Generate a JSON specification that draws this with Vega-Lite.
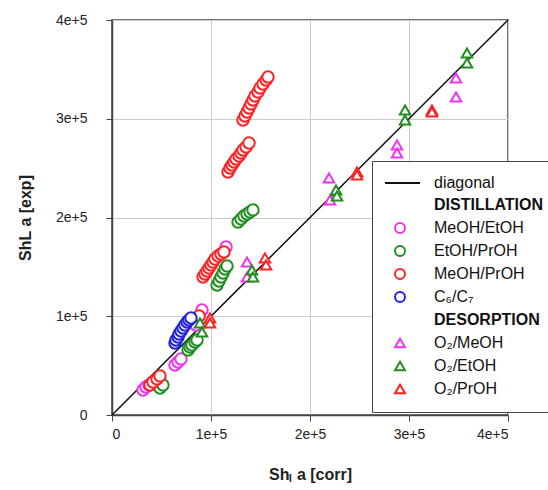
{
  "$schema": "https://vega.github.io/schema/vega-lite/v6.json",
  "autosize": {"type": "none"},
  "padding": {"left": 112, "top": 20, "right": 40, "bottom": 75},
  "width": 396,
  "height": 395,
  "background": "white",
  "config": {
    "font": "Liberation Sans",
    "view": {"stroke": "#444", "strokeWidth": 1.5},
    "axis": {
      "domainColor": "#444", "domainWidth": 1.5, "tickColor": "#444", "tickSize": 6,
      "labelFont": "Liberation Sans", "labelFontSize": 14, "labelColor": "#222",
      "titleFont": "Liberation Sans", "titleFontSize": 16, "titleFontWeight": "bold", "titleColor": "#222",
      "gridColor": "#cccccc", "gridWidth": 1
    },
    "legend": {
      "orient": "none", "legendX": 260, "legendY": 141, "zindex": 1,
      "fillColor": "white", "strokeColor": "#444", "padding": 14,
      "labelFontSize": 16, "labelFont": "Liberation Sans", "labelColor": "#111", "labelLimit": 300,
      "symbolSize": 100, "symbolStrokeWidth": 2, "symbolFillColor": "white", "labelOffset": 26, "rowPadding": 5, "symbolOffset": 6
    }
  },
  "datasets": {
    "diag": [{"x": 0, "y": 0}, {"x": 400000, "y": 400000}],
    "distill": [
      {"series": "MeOH/EtOH", "x": 31300, "y": 25300},
      {"series": "MeOH/EtOH", "x": 34300, "y": 28400},
      {"series": "MeOH/EtOH", "x": 37400, "y": 30400},
      {"series": "MeOH/EtOH", "x": 63600, "y": 50600},
      {"series": "MeOH/EtOH", "x": 66700, "y": 53700},
      {"series": "MeOH/EtOH", "x": 69700, "y": 56700},
      {"series": "MeOH/EtOH", "x": 84800, "y": 91100},
      {"series": "MeOH/EtOH", "x": 90900, "y": 106300},
      {"series": "MeOH/EtOH", "x": 115200, "y": 170100},
      {"series": "EtOH/PrOH", "x": 48500, "y": 27300},
      {"series": "EtOH/PrOH", "x": 51500, "y": 30400},
      {"series": "EtOH/PrOH", "x": 76800, "y": 65800},
      {"series": "EtOH/PrOH", "x": 78800, "y": 68900},
      {"series": "EtOH/PrOH", "x": 80800, "y": 70900},
      {"series": "EtOH/PrOH", "x": 83800, "y": 73900},
      {"series": "EtOH/PrOH", "x": 85900, "y": 76000},
      {"series": "EtOH/PrOH", "x": 106100, "y": 131600},
      {"series": "EtOH/PrOH", "x": 108100, "y": 135700},
      {"series": "EtOH/PrOH", "x": 110100, "y": 139700},
      {"series": "EtOH/PrOH", "x": 112100, "y": 143800},
      {"series": "EtOH/PrOH", "x": 114100, "y": 147800},
      {"series": "EtOH/PrOH", "x": 116200, "y": 150900},
      {"series": "EtOH/PrOH", "x": 127300, "y": 195400},
      {"series": "EtOH/PrOH", "x": 130300, "y": 198500},
      {"series": "EtOH/PrOH", "x": 133300, "y": 201500},
      {"series": "EtOH/PrOH", "x": 136400, "y": 203500},
      {"series": "EtOH/PrOH", "x": 139400, "y": 205600},
      {"series": "EtOH/PrOH", "x": 142400, "y": 207600},
      {"series": "MeOH/PrOH", "x": 38400, "y": 30400},
      {"series": "MeOH/PrOH", "x": 41400, "y": 33400},
      {"series": "MeOH/PrOH", "x": 45500, "y": 36500},
      {"series": "MeOH/PrOH", "x": 48500, "y": 39500},
      {"series": "MeOH/PrOH", "x": 88000, "y": 100300},
      {"series": "MeOH/PrOH", "x": 91900, "y": 139700},
      {"series": "MeOH/PrOH", "x": 93900, "y": 142800},
      {"series": "MeOH/PrOH", "x": 96000, "y": 145800},
      {"series": "MeOH/PrOH", "x": 98000, "y": 148900},
      {"series": "MeOH/PrOH", "x": 100000, "y": 151900},
      {"series": "MeOH/PrOH", "x": 102000, "y": 154900},
      {"series": "MeOH/PrOH", "x": 104000, "y": 158000},
      {"series": "MeOH/PrOH", "x": 107100, "y": 161000},
      {"series": "MeOH/PrOH", "x": 110100, "y": 163000},
      {"series": "MeOH/PrOH", "x": 113100, "y": 165100},
      {"series": "MeOH/PrOH", "x": 117200, "y": 246100},
      {"series": "MeOH/PrOH", "x": 119200, "y": 250100},
      {"series": "MeOH/PrOH", "x": 121200, "y": 253200},
      {"series": "MeOH/PrOH", "x": 123200, "y": 256200},
      {"series": "MeOH/PrOH", "x": 125300, "y": 259200},
      {"series": "MeOH/PrOH", "x": 128300, "y": 262300},
      {"series": "MeOH/PrOH", "x": 130300, "y": 265300},
      {"series": "MeOH/PrOH", "x": 132300, "y": 268400},
      {"series": "MeOH/PrOH", "x": 135400, "y": 271400},
      {"series": "MeOH/PrOH", "x": 138400, "y": 275500},
      {"series": "MeOH/PrOH", "x": 132300, "y": 298700},
      {"series": "MeOH/PrOH", "x": 134300, "y": 302800},
      {"series": "MeOH/PrOH", "x": 136400, "y": 306800},
      {"series": "MeOH/PrOH", "x": 138400, "y": 310900},
      {"series": "MeOH/PrOH", "x": 140400, "y": 314900},
      {"series": "MeOH/PrOH", "x": 142400, "y": 319000},
      {"series": "MeOH/PrOH", "x": 144400, "y": 323000},
      {"series": "MeOH/PrOH", "x": 147500, "y": 327100},
      {"series": "MeOH/PrOH", "x": 149500, "y": 331100},
      {"series": "MeOH/PrOH", "x": 152500, "y": 335200},
      {"series": "MeOH/PrOH", "x": 155600, "y": 339200},
      {"series": "MeOH/PrOH", "x": 157600, "y": 342300},
      {"series": "C₆/C₇", "x": 63600, "y": 72900},
      {"series": "C₆/C₇", "x": 64600, "y": 75900},
      {"series": "C₆/C₇", "x": 66700, "y": 79000},
      {"series": "C₆/C₇", "x": 67700, "y": 82000},
      {"series": "C₆/C₇", "x": 69700, "y": 85100},
      {"series": "C₆/C₇", "x": 71700, "y": 88100},
      {"series": "C₆/C₇", "x": 73700, "y": 91100},
      {"series": "C₆/C₇", "x": 75800, "y": 94200},
      {"series": "C₆/C₇", "x": 77800, "y": 96200},
      {"series": "C₆/C₇", "x": 79800, "y": 98200}
    ],
    "desorp": [
      {"series": "O₂/MeOH", "x": 136400, "y": 154900},
      {"series": "O₂/MeOH", "x": 136400, "y": 139700},
      {"series": "O₂/MeOH", "x": 219200, "y": 240000},
      {"series": "O₂/MeOH", "x": 220200, "y": 217700},
      {"series": "O₂/MeOH", "x": 287900, "y": 273400},
      {"series": "O₂/MeOH", "x": 287900, "y": 265300},
      {"series": "O₂/MeOH", "x": 347500, "y": 341300},
      {"series": "O₂/MeOH", "x": 347500, "y": 322000},
      {"series": "O₂/EtOH", "x": 88900, "y": 93200},
      {"series": "O₂/EtOH", "x": 90900, "y": 84100},
      {"series": "O₂/EtOH", "x": 141400, "y": 146800},
      {"series": "O₂/EtOH", "x": 142400, "y": 139700},
      {"series": "O₂/EtOH", "x": 226300, "y": 227900},
      {"series": "O₂/EtOH", "x": 227300, "y": 221800},
      {"series": "O₂/EtOH", "x": 296000, "y": 308900},
      {"series": "O₂/EtOH", "x": 296000, "y": 298700},
      {"series": "O₂/EtOH", "x": 358600, "y": 366600},
      {"series": "O₂/EtOH", "x": 358600, "y": 356500},
      {"series": "O₂/PrOH", "x": 99000, "y": 98200},
      {"series": "O₂/PrOH", "x": 99000, "y": 93200},
      {"series": "O₂/PrOH", "x": 154500, "y": 159000},
      {"series": "O₂/PrOH", "x": 155600, "y": 151900},
      {"series": "O₂/PrOH", "x": 247500, "y": 246100},
      {"series": "O₂/PrOH", "x": 247500, "y": 243000},
      {"series": "O₂/PrOH", "x": 323200, "y": 308900},
      {"series": "O₂/PrOH", "x": 323200, "y": 306800}
    ]
  },
  "encoding": {
    "x": {
      "field": "x", "type": "quantitative",
      "scale": {"domain": [0, 400000], "nice": false, "zero": false},
      "axis": {"values": [0, 100000, 200000, 300000, 400000], "title": "Shₗ a [corr]", "labelPadding": 6, "titlePadding": 25,
        "labelExpr": "datum.value == 0 ? '0' : (datum.value/100000) + 'e+5'"}
    },
    "y": {
      "field": "y", "type": "quantitative",
      "scale": {"domain": [0, 400000], "nice": false, "zero": false},
      "axis": {"values": [0, 100000, 200000, 300000, 400000], "title": "ShL a [exp]", "labelPadding": 19, "titlePadding": 22,
        "labelExpr": "datum.value == 0 ? '0' : (datum.value/100000) + 'e+5'"}
    }
  },
  "layer": [
    {
      "data": {"name": "diag"},
      "mark": {"type": "line", "color": "#111", "strokeWidth": 1.5},
      "encoding": {}
    },
    {
      "data": {"name": "distill"},
      "mark": {"type": "point", "filled": false, "fill": "white", "fillOpacity": 1, "strokeWidth": 2, "size": 130, "opacity": 1},
      "encoding": {
        "color": {
          "field": "series", "type": "nominal", "sort": null,
          "scale": {
            "domain": ["diagonal", "DISTILLATION", "MeOH/EtOH", "EtOH/PrOH", "MeOH/PrOH", "C₆/C₇", "DESORPTION", "O₂/MeOH", "O₂/EtOH", "O₂/PrOH"],
            "range": ["#111111", "transparent", "#ee33ee", "#1f8f1f", "#ff2222", "#2222dd", "transparent", "#ee33ee", "#1f8f1f", "#ff2222"]
          },
          "legend": {
            "title": null,
            "labelFontWeight": {"expr": "datum.label == 'DISTILLATION' || datum.label == 'DESORPTION' ? 'bold' : 'normal'"}
          }
        },
        "shape": {
          "field": "series", "type": "nominal", "sort": null,
          "scale": {
            "domain": ["diagonal", "DISTILLATION", "MeOH/EtOH", "EtOH/PrOH", "MeOH/PrOH", "C₆/C₇", "DESORPTION", "O₂/MeOH", "O₂/EtOH", "O₂/PrOH"],
            "range": ["M-3,0L4,0", "circle", "circle", "circle", "circle", "circle", "circle", "triangle-up", "triangle-up", "triangle-up"]
          },
          "legend": {
            "title": null,
            "labelFontWeight": {"expr": "datum.label == 'DISTILLATION' || datum.label == 'DESORPTION' ? 'bold' : 'normal'"}
          }
        }
      }
    },
    {
      "data": {"name": "desorp"},
      "mark": {"type": "point", "filled": false, "fill": "white", "fillOpacity": 1, "strokeWidth": 2, "size": 110, "opacity": 1},
      "encoding": {
        "color": {"field": "series", "type": "nominal", "sort": null},
        "shape": {"field": "series", "type": "nominal", "sort": null}
      }
    }
  ]
}
